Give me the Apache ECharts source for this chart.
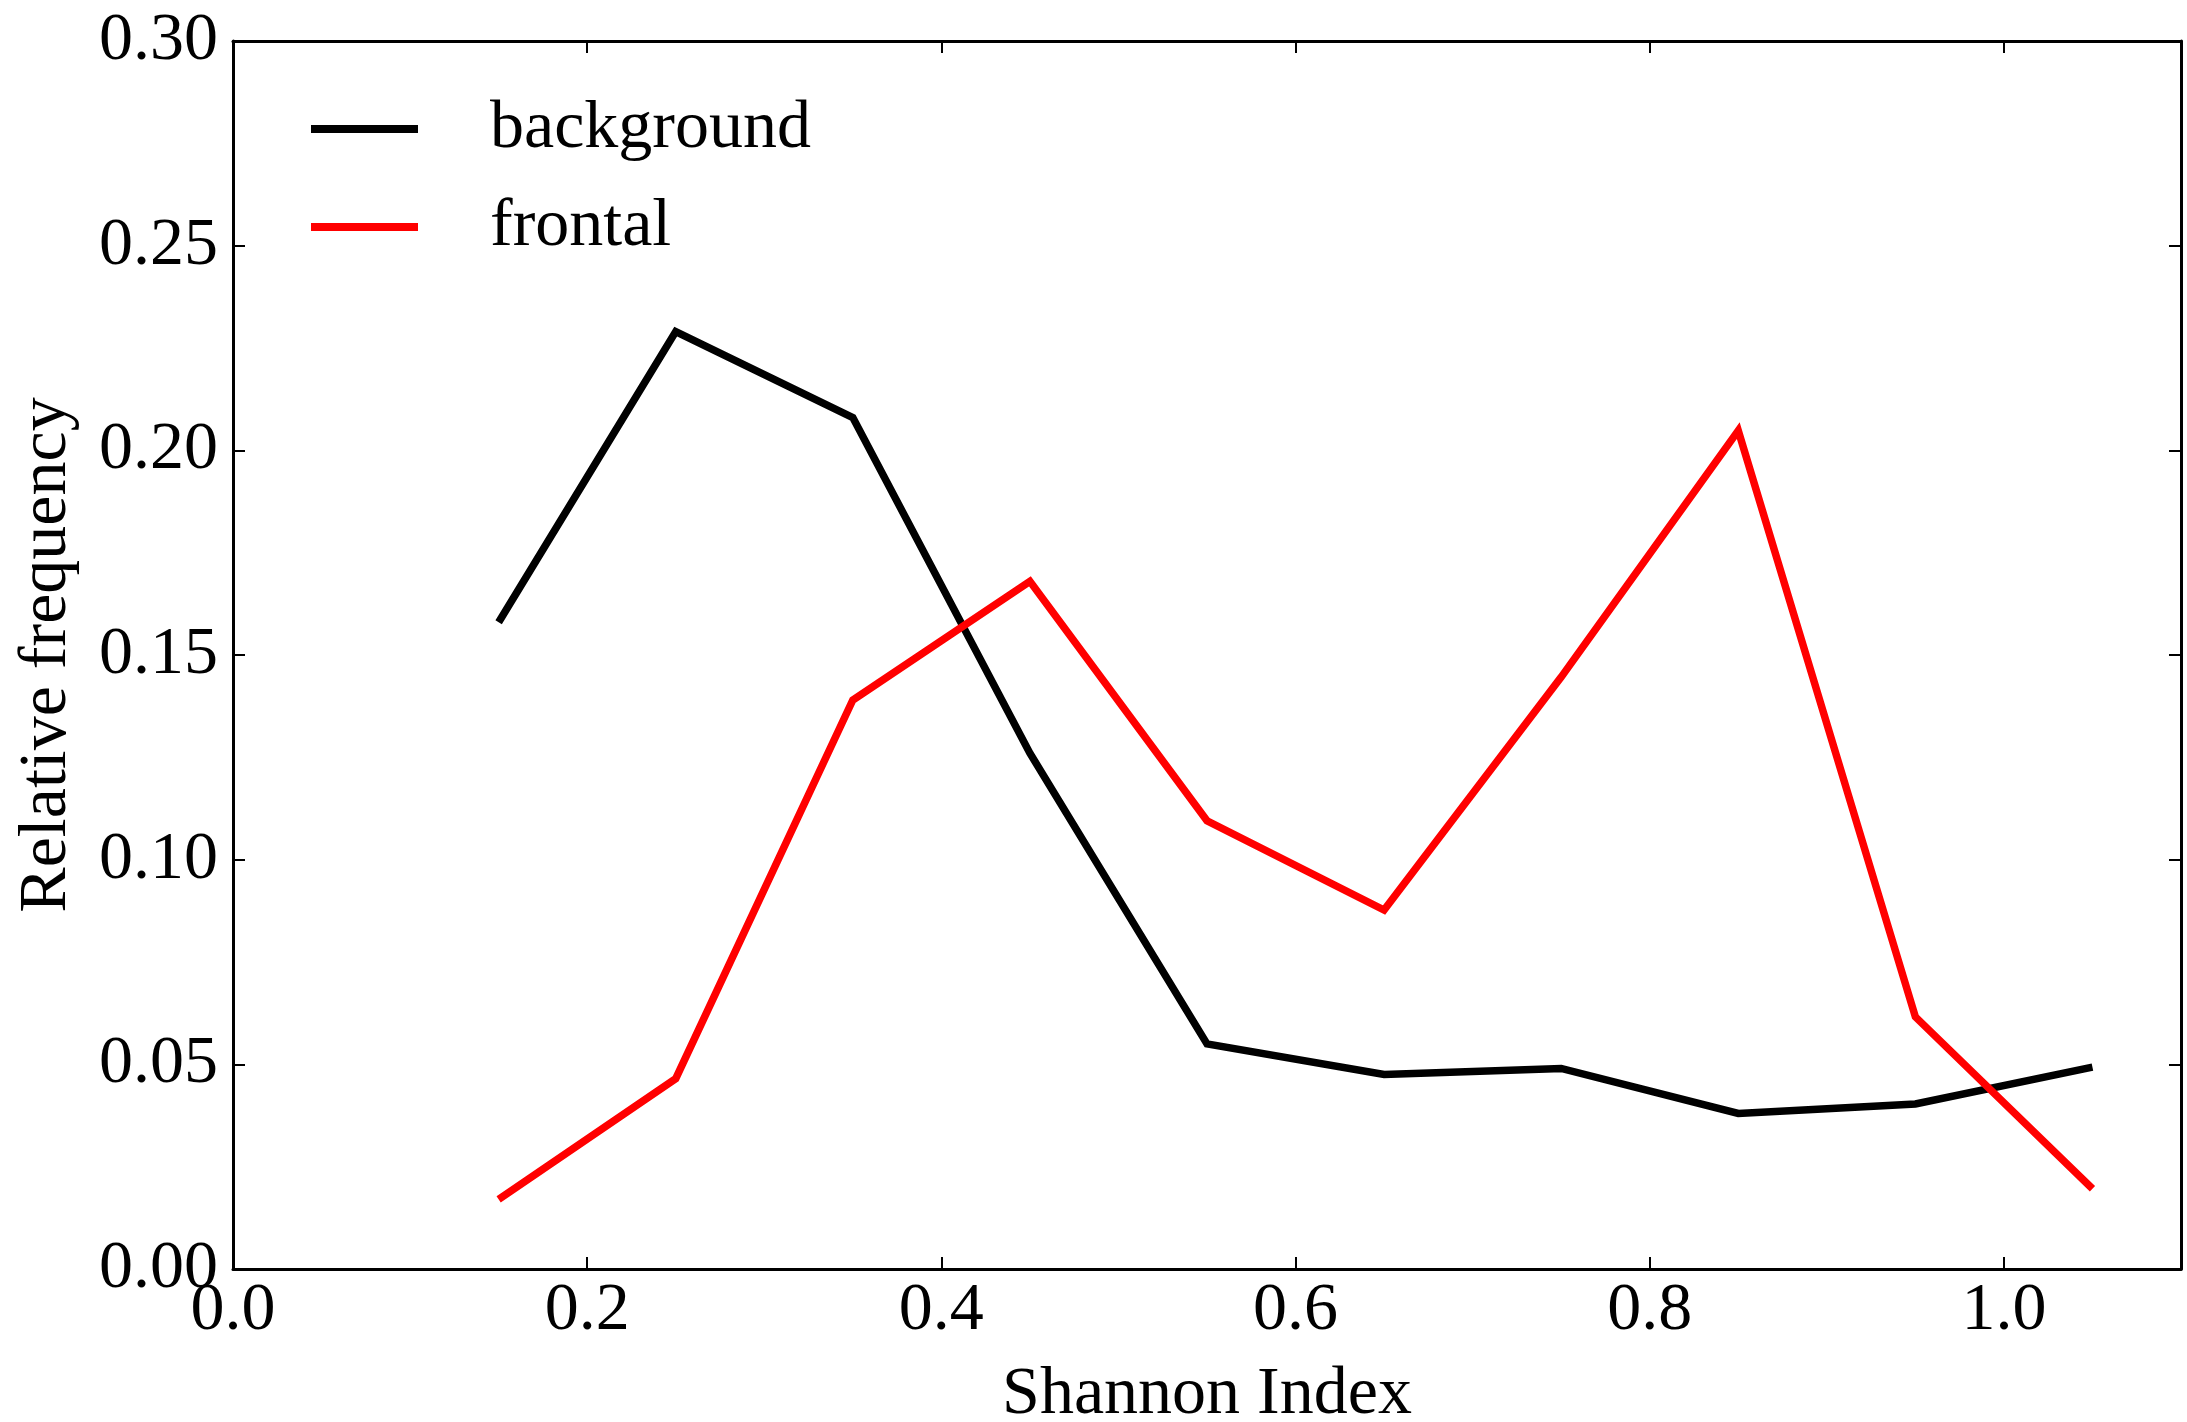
<!DOCTYPE html>
<html>
<head>
<meta charset="utf-8">
<title>Shannon Index distribution</title>
<script src="https://cdn.jsdelivr.net/npm/echarts@6/dist/echarts.min.js"></script>
<style>
  html, body { margin: 0; padding: 0; background: #ffffff; }
  #chart { width: 2187px; height: 1422px; }
</style>
</head>
<body>
<div id="chart"></div>
<script>
// Bin centres of the Shannon Index histogram
const binCentres = [0.15, 0.25, 0.35, 0.45, 0.55, 0.65, 0.75, 0.85, 0.95, 1.05];

// Relative frequency per bin
const backgroundFreq = [0.158, 0.229, 0.208, 0.126, 0.055, 0.0475, 0.049, 0.038, 0.0403, 0.0493];
const frontalFreq    = [0.017, 0.0465, 0.139, 0.168, 0.1095, 0.0877, 0.1446, 0.2048, 0.0616, 0.0196];

const seriesNames = ['background', 'frontal'];
const seriesColors = ['#000000', '#ff0000'];

const serif = '"Liberation Serif", "DejaVu Serif", serif';
const FS = 68;

function pairs(ys) {
  return binCentres.map((x, i) => [x, ys[i]]);
}

// Each axis gets its own frame line and inward ticks, so the box has ticks on all four sides
function frameLine() {
  return { show: true, onZero: false, lineStyle: { color: '#000', width: 3 } };
}
function innerTick() {
  return { show: true, inside: true, length: 12, lineStyle: { color: '#000', width: 2 } };
}

const chart = echarts.init(document.getElementById('chart'), null, { renderer: 'canvas' });

chart.setOption({
  animation: false,
  backgroundColor: '#ffffff',
  grid: { left: 233, right: 6, top: 41, bottom: 153, containLabel: false, outerBoundsMode: 'none' },
  legend: {
    left: 306,
    top: 90,
    orient: 'vertical',
    icon: 'rect',
    itemWidth: 107,
    itemHeight: 8,
    itemGap: 30,
    data: seriesNames,
    textStyle: { fontFamily: serif, fontSize: FS, color: '#000', padding: [0, 0, 0, 67] }
  },
  xAxis: [
    {
      type: 'value', position: 'bottom', min: 0, max: 1.1, interval: 0.2,
      name: 'Shannon Index', nameLocation: 'middle', nameGap: 92, nameMoveOverlap: false,
      nameTextStyle: { fontFamily: serif, fontSize: FS, color: '#000' },
      axisLine: frameLine(), axisTick: innerTick(), splitLine: { show: false },
      axisLabel: {
        fontFamily: serif, fontSize: FS, color: '#000', margin: 8,
        showMaxLabel: false, formatter: v => v.toFixed(1)
      }
    },
    {
      type: 'value', position: 'top', min: 0, max: 1.1, interval: 0.2,
      axisLine: frameLine(), axisTick: innerTick(), splitLine: { show: false },
      axisLabel: { show: false }
    }
  ],
  yAxis: [
    {
      type: 'value', position: 'left', min: 0, max: 0.3, interval: 0.05,
      name: 'Relative frequency', nameLocation: 'middle', nameGap: 152, nameRotate: 90,
      nameMoveOverlap: false,
      nameTextStyle: { fontFamily: serif, fontSize: FS, color: '#000' },
      axisLine: frameLine(), axisTick: innerTick(), splitLine: { show: false },
      axisLabel: {
        fontFamily: serif, fontSize: FS, color: '#000', margin: 15,
        formatter: v => v.toFixed(2)
      }
    },
    {
      type: 'value', position: 'right', min: 0, max: 0.3, interval: 0.05,
      axisLine: frameLine(), axisTick: innerTick(), splitLine: { show: false },
      axisLabel: { show: false }
    }
  ],
  series: [
    {
      name: seriesNames[0], type: 'line', data: pairs(backgroundFreq),
      showSymbol: false, symbol: 'none',
      lineStyle: { color: seriesColors[0], width: 7.5, cap: 'butt', join: 'miter' },
      itemStyle: { color: seriesColors[0] }
    },
    {
      name: seriesNames[1], type: 'line', data: pairs(frontalFreq),
      showSymbol: false, symbol: 'none',
      lineStyle: { color: seriesColors[1], width: 7.5, cap: 'butt', join: 'miter' },
      itemStyle: { color: seriesColors[1] }
    }
  ]
});
</script>
</body>
</html>
